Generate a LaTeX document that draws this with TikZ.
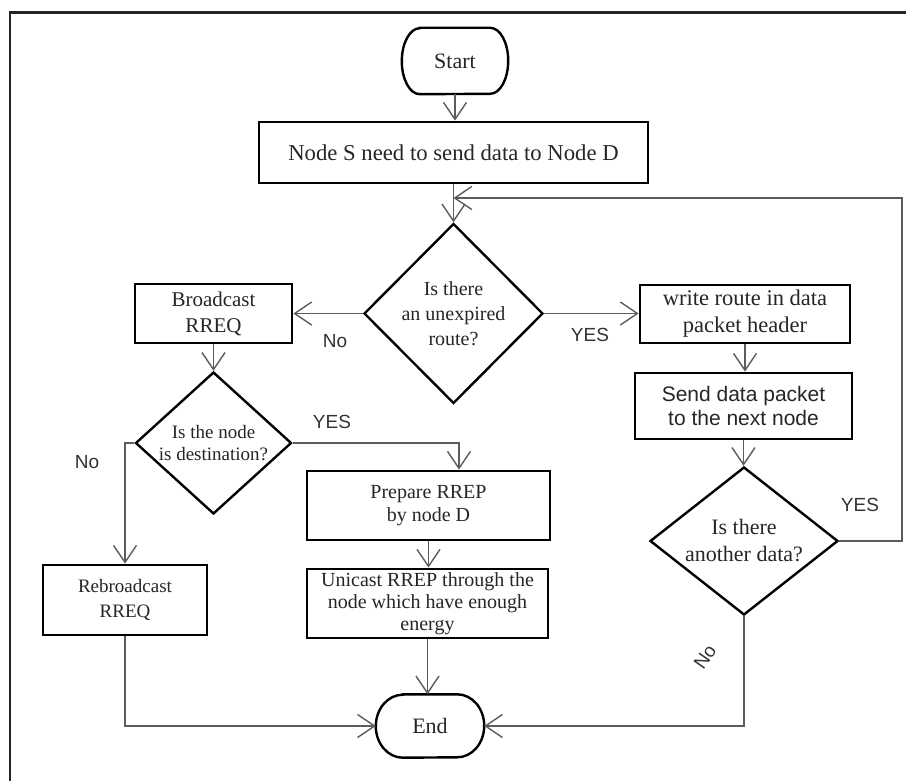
\documentclass[tikz,border=0pt]{standalone}
\usepackage{fontspec}
\setmainfont{Liberation Serif}
\newfontfamily\sanslib{Liberation Sans}
\usetikzlibrary{arrows.meta,shapes.geometric,calc}
\begin{document}
\begin{tikzpicture}[x=1pt,y=-1pt,
  conn/.style={draw=black!64, line width=1.4pt, -{Straight Barb[length=17pt,width=23pt]}},
  proc/.style={draw=black, line width=2.8pt, rectangle, inner sep=0pt, align=center, text=black!85},
  term/.style={rectangle, inner sep=0pt, align=center, text=black!85},
  termline/.style={draw=black, line width=2.4pt},
  dec/.style={draw=black, line width=2.4pt, diamond, inner sep=0pt, align=center, text=black!85},
  lbl/.style={font=\sanslib\fontsize{19}{22}\selectfont, text=black!80, inner sep=0pt}]
\useasboundingbox (0,0) rectangle (906,781);
\clip (0,0) rectangle (906,781);
\fill[white] (0,0) rectangle (906,781);
% outer frame
\draw[line width=2.6pt, black!85] (10,800) -- (10,12.5) -- (920,12.5);

% nodes
\node[term, minimum width=106pt, minimum height=66pt, font=\fontsize{22}{25}\selectfont] (start) at (455,61) {Start};
\node[proc, minimum width=389pt, minimum height=61pt, font=\fontsize{22.7}{26}\selectfont] (need) at (453.5,152.5) {Node S need to send data to Node D};
\node[dec, minimum width=179pt, minimum height=180pt, aspect=1, font=\fontsize{20}{25}\selectfont] (route) at (453.5,313.5) {Is there\\an unexpired\\route?};
\node[proc, minimum width=157pt, minimum height=59pt, font=\fontsize{21}{26}\selectfont] (bcast) at (213.5,313.5) {Broadcast\\RREQ};
\node[proc, minimum width=210pt, minimum height=58pt, font=\fontsize{22.5}{27}\selectfont] (write) at (745,314) {write route in data\\packet header};
\node[proc, minimum width=217pt, minimum height=66pt, font=\sanslib\fontsize{21}{24}\selectfont] (send) at (743.5,406) {Send data packet\\to the next node};
\node[dec, minimum width=156pt, minimum height=142pt, aspect=1.1, font=\fontsize{19}{22}\selectfont] (dest) at (213.5,443) {Is the node\\is destination?};
\node[proc, minimum width=243pt, minimum height=69pt, font=\fontsize{20}{23}\selectfont] (prep) at (428.5,505.5) {Prepare RREP\\by node D};
\node[proc, minimum width=241pt, minimum height=69pt, font=\fontsize{20}{22}\selectfont] (uni) at (427.5,603.5) {Unicast RREP through the\\node which have enough\\energy};
\node[proc, minimum width=164pt, minimum height=70pt, font=\fontsize{19}{25}\selectfont] (rebc) at (125,600) {Rebroadcast\\RREQ};
\node[dec, minimum width=188pt, minimum height=148pt, aspect=1.27, font=\fontsize{22}{27}\selectfont] (more) at (744,541) {Is there\\another data?};
\node[term, minimum width=108pt, minimum height=63pt, font=\fontsize{22}{25}\selectfont] (end) at (430,726) {End};

% terminator outlines (flat top and bottom, elliptic sides)
\draw[termline] ([xshift=18pt]start.north west) -- ([xshift=-18pt]start.north east)
  arc[start angle=90, end angle=-90, x radius=18pt, y radius=33pt]
  -- ([xshift=18pt]start.south west)
  arc[start angle=270, end angle=90, x radius=18pt, y radius=33pt] -- cycle;
\draw[termline] ([xshift=27pt]end.north west) -- ([xshift=-27pt]end.north east)
  arc[start angle=90, end angle=-90, x radius=27pt, y radius=31.5pt]
  -- ([xshift=27pt]end.south west)
  arc[start angle=270, end angle=90, x radius=27pt, y radius=31.5pt] -- cycle;

% labels
\node[lbl] (noA) at (335,341) {No};
\node[lbl] (yesA) at (590,335) {YES};
\node[lbl] (yesB) at (332,422) {YES};
\node[lbl] (noB) at (87,462) {No};
\node[lbl] (yesC) at (860,505) {YES};
\node[lbl, rotate=55] (noC) at (705,657) {No};

% connectors
\coordinate (loopr) at (902,198);
\draw[conn] (start.south) -- (start.south |- need.north);
\draw[conn] (need.south) -- (route.north);
\draw[conn] (route.west) -- (route.west -| bcast.east);
\draw[conn] (route.east) -- (route.east -| write.west);
\draw[conn] (bcast.south) -- (dest.north);
\draw[conn] (dest.west) -| (rebc.north);
\draw[conn] (dest.east) -| ([xshift=30.5pt]prep.north);
\draw[conn] (prep.south) -- (prep.south |- uni.north);
\draw[conn] (uni.south) -- (uni.south |- end.north);
\draw[conn] (rebc.south) |- (end.west);
\draw[conn] (more.south) |- (end.east);
\draw[conn] (write.south) -- (write.south |- send.north);
\draw[conn] (send.south) -- (send.south |- more.north);
\draw[conn] (more.east) -| (loopr) -- (loopr -| route.north);
\end{tikzpicture}
\end{document}
